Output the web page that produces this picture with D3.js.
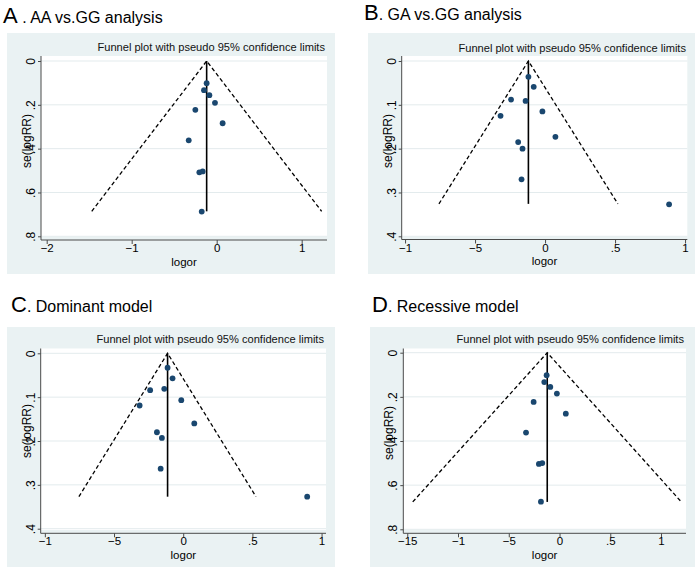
<!DOCTYPE html>
<html>
<head>
<meta charset="utf-8">
<script src="https://cdn.jsdelivr.net/npm/d3@7"></script>
<style>
  html, body { margin: 0; padding: 0; background: #ffffff; }
  svg { display: block; font-family: "Liberation Sans", Arial, sans-serif; }
</style>
</head>
<body>
<svg id="chart" width="700" height="570"></svg>
<script>
// ---------------- DATA ----------------
const panelLetters = ["A", "B", "C", "D"];
const panelTitles = [" . AA vs.GG analysis", ". GA vs.GG analysis", ". Dominant model", ". Recessive model"];
const plotTitle = "Funnel plot with pseudo 95% confidence limits";
const xTitle = "logor";
const yTitle = "se(logRR)";

// Panel A: AA vs.GG
const aLogor = [-0.118, -0.149, -0.086, -0.020, -0.251, 0.070, -0.329, -0.204, -0.165, -0.176];
const aSe    = [0.101, 0.133, 0.156, 0.191, 0.223, 0.284, 0.362, 0.508, 0.504, 0.687];
// Panel B: GA vs.GG
const bLogor = [-0.119, -0.081, -0.243, -0.139, -0.019, -0.318, 0.074, -0.192, -0.161, -0.168, 0.886];
const bSe    = [0.036, 0.059, 0.088, 0.091, 0.115, 0.125, 0.173, 0.185, 0.200, 0.270, 0.327];
// Panel C: Dominant model
const cLogor = [-0.113, -0.077, -0.239, -0.137, -0.014, -0.315, 0.080, -0.190, -0.154, -0.163, 0.896];
const cSe    = [0.033, 0.057, 0.084, 0.081, 0.107, 0.119, 0.160, 0.180, 0.193, 0.263, 0.327];
// Panel D: Recessive model
const dLogor = [-0.127, -0.150, -0.091, -0.026, -0.255, 0.062, -0.330, -0.203, -0.170, -0.183];
const dSe    = [0.102, 0.133, 0.155, 0.185, 0.223, 0.276, 0.362, 0.504, 0.500, 0.675];

// Pooled estimate (funnel apex), max se, and pseudo 95% limits at max se
const pooled      = [-0.118, -0.119, -0.113, -0.121];
const seMax       = [0.686, 0.326, 0.327, 0.676];
const limitLeft   = [-1.470, -0.758, -0.754, -1.446];
const limitRight  = [1.235, 0.520, 0.526, 1.200];

// Tick values and labels (as printed)
const aXTicks = [-2, -1, 0, 1];
const aXLabels = ["\u22122", "\u22121", "0", "1"];
const bXTicks = [-1, -0.5, 0, 0.5, 1];
const bXLabels = ["\u22121", "\u22125", "0", ".5", "1"];
const cXTicks = [-1, -0.5, 0, 0.5, 1];
const cXLabels = ["\u22121", "\u22125", "0", ".5", "1"];
const dXTicks = [-1.5, -1, -0.5, 0, 0.5, 1];
const dXLabels = ["\u221215", "\u22121", "\u22125", "0", ".5", "1"];
const yTicks08 = [0, 0.2, 0.4, 0.6, 0.8];
const yLabels08 = ["0", ".2", ".4", ".6", ".8"];
const yTicks04 = [0, 0.1, 0.2, 0.3, 0.4];
const yLabels04 = ["0", ".1", ".2", ".3", ".4"];

// ---------------- LAYOUT ----------------
const layout = [
  { bg: [7, 33, 335, 274], axX: 41, right: 327, top: 56, whiteBottom: 237, axY: 240,
    xDom: [-2.067, 1.298], yPix: [61, 236.3], yDom: [0, 0.8],
    letterX: 3, titleY: 23, titleRight: 325, titleBase: 51, yTitleY: 141 },
  { bg: [368, 33, 695, 274], axX: 401.7, right: 687.3, top: 56, whiteBottom: 237, axY: 239.5,
    xDom: [-1.024, 1.016], yPix: [61, 236.3], yDom: [0, 0.4],
    letterX: 364, titleY: 20, titleRight: 686, titleBase: 51.5, yTitleY: 141 },
  { bg: [7, 327, 335, 567], axX: 40.7, right: 326, top: 348.5, whiteBottom: 530, axY: 533.3,
    xDom: [-1.03, 1.032], yPix: [353.3, 528.7], yDom: [0, 0.4],
    letterX: 11, titleY: 312, titleRight: 324, titleBase: 342.5, yTitleY: 431 },
  { bg: [370, 327, 695, 567], axX: 403.3, right: 686, top: 348.5, whiteBottom: 530, axY: 533.3,
    xDom: [-1.539, 1.246], yPix: [352.7, 529.3], yDom: [0, 0.8],
    letterX: 372, titleY: 312, titleRight: 684, titleBase: 342.5, yTitleY: 433 }
];

const panels = [
  { logor: aLogor, se: aSe, xt: aXTicks, xl: aXLabels, yt: yTicks08, yl: yLabels08 },
  { logor: bLogor, se: bSe, xt: bXTicks, xl: bXLabels, yt: yTicks04, yl: yLabels04 },
  { logor: cLogor, se: cSe, xt: cXTicks, xl: cXLabels, yt: yTicks04, yl: yLabels04 },
  { logor: dLogor, se: dSe, xt: dXTicks, xl: dXLabels, yt: yTicks08, yl: yLabels08 }
];

const BG = "#eaf2f3";
const GRID = "#e3ebed";
const MARK = "#1a476f";
const AXIS = "#4a4a4a";

const svg = d3.select("#chart");

panels.forEach((p, i) => {
  const L = layout[i];
  const g = svg.append("g");

  // graph region background
  g.append("rect")
    .attr("x", L.bg[0]).attr("y", L.bg[1])
    .attr("width", L.bg[2] - L.bg[0]).attr("height", L.bg[3] - L.bg[1])
    .attr("fill", BG);

  // panel title
  const t = g.append("text").attr("x", L.letterX).attr("y", L.titleY).attr("fill", "#000");
  t.append("tspan").attr("font-size", 22).text(panelLetters[i]);
  t.append("tspan").attr("font-size", 16).text(panelTitles[i]);

  // plot region
  g.append("rect")
    .attr("x", L.axX).attr("y", L.top)
    .attr("width", L.right - L.axX).attr("height", L.whiteBottom - L.top)
    .attr("fill", "#ffffff");

  const x = d3.scaleLinear().domain(L.xDom).range([L.axX, L.right]);
  const y = d3.scaleLinear().domain(L.yDom).range(L.yPix);

  // grid lines
  g.append("g").selectAll("line").data(p.yt).join("line")
    .attr("x1", L.axX).attr("x2", L.right)
    .attr("y1", d => y(d)).attr("y2", d => y(d))
    .attr("stroke", GRID).attr("stroke-width", 1);

  // plot subtitle
  g.append("text")
    .attr("x", L.titleRight).attr("y", L.titleBase)
    .attr("text-anchor", "end").attr("font-size", 11.1).attr("fill", "#111")
    .text(plotTitle);

  // axes lines
  g.append("line").attr("x1", L.axX).attr("x2", L.axX).attr("y1", L.top).attr("y2", L.axY)
    .attr("stroke", AXIS).attr("stroke-width", 1);
  g.append("line").attr("x1", L.axX).attr("x2", L.right).attr("y1", L.axY).attr("y2", L.axY)
    .attr("stroke", AXIS).attr("stroke-width", 1);

  // x axis
  const xAxis = d3.axisBottom(x).tickValues(p.xt).tickSize(4).tickSizeOuter(0)
    .tickFormat((d, k) => p.xl[k]);
  const gx = g.append("g").attr("transform", `translate(0,${L.axY})`).call(xAxis);
  gx.select(".domain").remove();
  gx.selectAll(".tick line").attr("stroke", AXIS);
  gx.selectAll(".tick text").attr("font-size", 11.5).attr("fill", "#000")
    .attr("font-family", "Liberation Sans, Arial, sans-serif")
    .attr("y", 12).attr("dy", 0);

  // y axis
  const yAxis = d3.axisLeft(y).tickValues(p.yt).tickSize(3).tickSizeOuter(0)
    .tickFormat((d, k) => p.yl[k]);
  const gy = g.append("g").attr("transform", `translate(${L.axX},0)`).call(yAxis);
  gy.select(".domain").remove();
  gy.selectAll(".tick line").attr("stroke", AXIS);
  gy.selectAll(".tick text").attr("font-size", 12).attr("fill", "#000")
    .attr("font-family", "Liberation Sans, Arial, sans-serif")
    .attr("text-anchor", "middle")
    .attr("transform", "rotate(-90)")
    .attr("x", 0).attr("y", -6).attr("dy", 0);

  // axis titles
  g.append("text")
    .attr("x", (L.axX + L.right) / 2).attr("y", L.axY + 25.5)
    .attr("text-anchor", "middle").attr("font-size", 11.5).attr("fill", "#000")
    .text(xTitle);
  g.append("text")
    .attr("transform", `translate(${L.axX - 10},${L.yTitleY}) rotate(-90)`)
    .attr("text-anchor", "middle").attr("font-size", 12).attr("fill", "#000")
    .text(yTitle);

  // funnel (pseudo 95% CI) lines
  const funnel = d3.line().x(d => x(d[0])).y(d => y(d[1]));
  g.append("path")
    .attr("d", funnel([[limitLeft[i], seMax[i]], [pooled[i], 0], [limitRight[i], seMax[i]]]))
    .attr("fill", "none").attr("stroke", "#000").attr("stroke-width", 1.3)
    .attr("stroke-dasharray", "4,2.6");
  // pooled estimate vertical line
  g.append("path")
    .attr("d", funnel([[pooled[i], 0], [pooled[i], seMax[i]]]))
    .attr("fill", "none").attr("stroke", "#000").attr("stroke-width", 1.6);

  // study points
  g.append("g").selectAll("circle").data(p.logor.map((v, k) => [v, p.se[k]])).join("circle")
    .attr("cx", d => x(d[0])).attr("cy", d => y(d[1]))
    .attr("r", 2.9).attr("fill", MARK);
});
</script>
</body>
</html>
